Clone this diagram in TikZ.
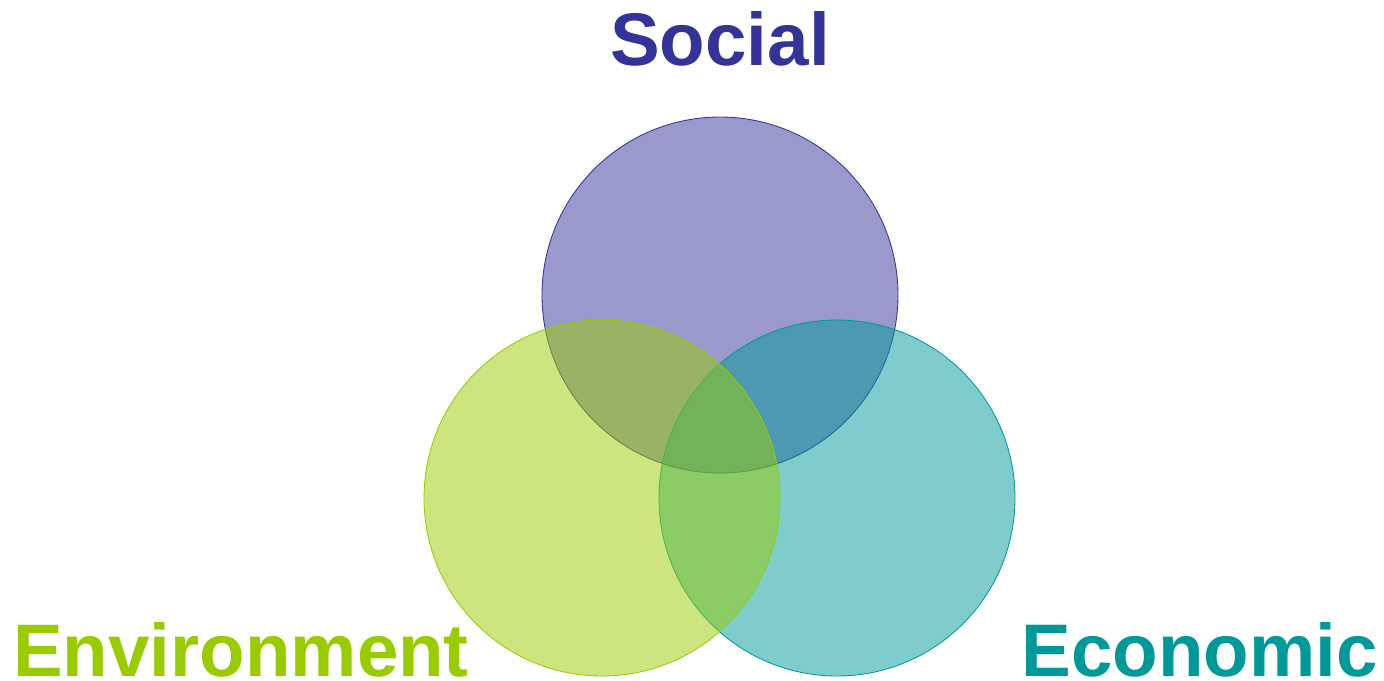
\documentclass[tikz,border=0pt]{standalone}
\usepackage{fontspec}
\setmainfont{Liberation Sans}
\definecolor{socialc}{RGB}{51,51,153}
\definecolor{envc}{RGB}{153,204,0}
\definecolor{econc}{RGB}{0,153,153}

\begin{document}
\begin{tikzpicture}[x=0.025cm,y=-0.025cm,
  ring/.style={line width=0.6pt, fill opacity=0.5},
  title/.style={font=\fontsize{53}{53}\selectfont\bfseries, inner sep=0pt}]
\useasboundingbox (0,0) rectangle (1384,680);

%% circles
\draw[ring, draw=socialc, fill=socialc] (720,295) circle (178); %% social
\draw[ring, draw=econc, fill=econc] (837,498) circle (178);     %% economic
\draw[ring, draw=envc, fill=envc] (602,498) circle (178);       %% environment

%% labels
\node[title, text=socialc, anchor=base] at (720,65) (social){Social};
\node[title, text=envc, anchor=base west] at (13,676) (env){Environment};
\node[title, text=econc, anchor=base east] at (1378,676) (econ){Economic};
\end{tikzpicture}
\end{document}
